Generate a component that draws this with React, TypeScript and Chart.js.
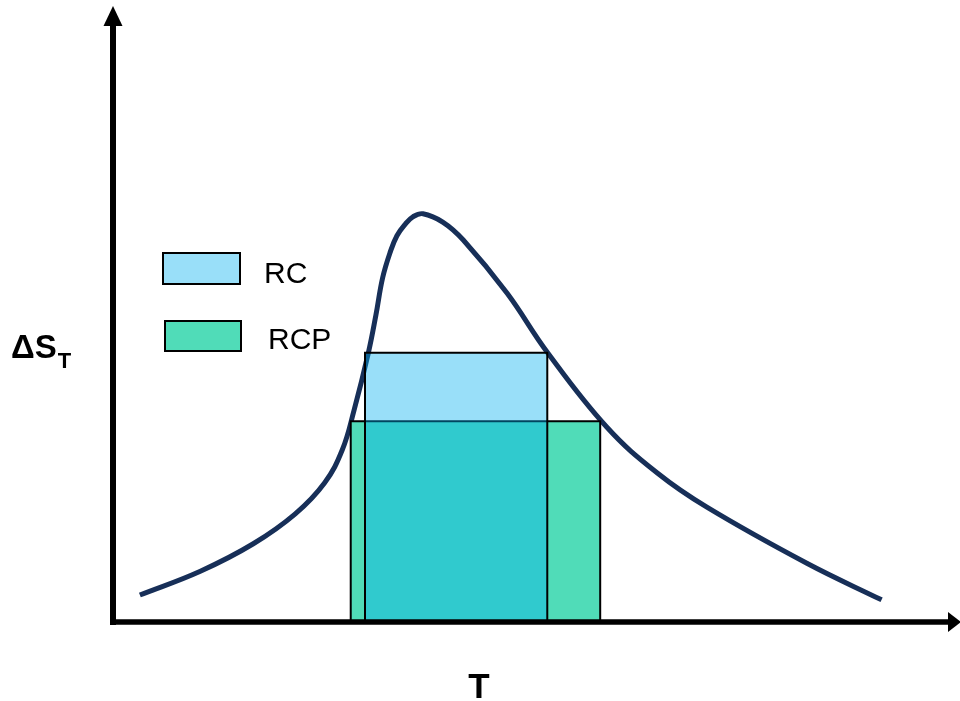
import React, { useEffect, useRef } from "react";
import { Chart, registerables } from "chart.js";

Chart.register(...registerables);

// Entropy-change curve ΔS_T against temperature T (arbitrary units, 0–100)
const curveT = [
  3.2, 10.4, 16.7, 21.7, 25.2, 27.3, 28.7, 30.4, 31.3, 32.1, 33.0, 33.8, 34.8,
  35.7, 36.9, 39.3, 41.7, 46.9, 51.7, 58.8, 64.8, 70.7, 82.6, 91.5,
];
const curveS = [
  4.1, 8.0, 12.5, 17.4, 22.5, 27.9, 34.4, 43.8, 50.0, 56.1, 60.3, 63.0, 64.9,
  66.1, 66.6, 65.2, 62.3, 53.6, 43.9, 31.6, 24.1, 18.5, 9.3, 3.3,
];

// Refrigerant-capacity rectangles: temperature span and height
const rcSpan = [30.0, 51.7];
const rcHeight = 43.8;
const rcpSpan = [28.3, 58.0];
const rcpHeight = 32.6;

const seriesNames = ["RC", "RCP"];
const xTitle = "T";
const yTitleMain = "ΔS";
const yTitleSub = "T";

const CURVE_COLOR = "#172F58";
const RC_FILL = "rgba(0, 176, 240, 0.4)";
const RCP_FILL = "#50DCB8";
const FONT = "'Liberation Sans', Arial, sans-serif";

const rect = (span: number[], h: number) => [
  { x: span[0], y: 0 },
  { x: span[0], y: h },
  { x: span[1], y: h },
  { x: span[1], y: 0 },
];

const overlay = {
  id: "overlay",
  afterDraw(chart: Chart) {
    const ctx = chart.ctx;
    const xs = chart.scales.x;
    const ys = chart.scales.y;
    const x0 = xs.getPixelForValue(0);
    const y0 = ys.getPixelForValue(0) + 2;
    ctx.save();
    ctx.fillStyle = "#000";
    ctx.strokeStyle = "#000";

    // y axis with arrow
    ctx.lineWidth = 6;
    ctx.beginPath();
    ctx.moveTo(x0, y0 + 3);
    ctx.lineTo(x0, 24);
    ctx.stroke();
    ctx.beginPath();
    ctx.moveTo(x0, 6);
    ctx.lineTo(x0 - 9.5, 26);
    ctx.lineTo(x0 + 9.5, 26);
    ctx.closePath();
    ctx.fill();

    // x axis with arrow
    ctx.lineWidth = 5.5;
    ctx.beginPath();
    ctx.moveTo(x0 - 3, y0);
    ctx.lineTo(950, y0);
    ctx.stroke();
    ctx.beginPath();
    ctx.moveTo(961, y0);
    ctx.lineTo(948, y0 - 10);
    ctx.lineTo(948, y0 + 10);
    ctx.closePath();
    ctx.fill();

    // legend
    ctx.lineWidth = 2;
    const boxes = [
      { x: 163, y: 253, w: 77, h: 31, fill: RC_FILL, tx: 264, ty: 283 },
      { x: 165, y: 321, w: 76, h: 30, fill: RCP_FILL, tx: 268, ty: 349 },
    ];
    boxes.forEach((b, i) => {
      ctx.fillStyle = "#fff";
      ctx.fillRect(b.x, b.y, b.w, b.h);
      ctx.fillStyle = b.fill;
      ctx.fillRect(b.x, b.y, b.w, b.h);
      ctx.strokeStyle = "#000";
      ctx.strokeRect(b.x, b.y, b.w, b.h);
      ctx.fillStyle = "#000";
      ctx.font = `30px ${FONT}`;
      ctx.textAlign = "left";
      ctx.textBaseline = "alphabetic";
      ctx.fillText(seriesNames[i], b.tx, b.ty);
    });

    // axis titles
    ctx.fillStyle = "#000";
    ctx.font = `bold 33px ${FONT}`;
    ctx.textAlign = "left";
    ctx.fillText(yTitleMain, 11, 358);
    const w = ctx.measureText(yTitleMain).width;
    ctx.font = `bold 22px ${FONT}`;
    ctx.fillText(yTitleSub, 11 + w + 1, 368);

    ctx.font = `bold 35px ${FONT}`;
    ctx.textAlign = "center";
    ctx.fillText(xTitle, 479, 698);
    ctx.restore();
  },
};

export default function App() {
  const ref = useRef<HTMLCanvasElement | null>(null);

  useEffect(() => {
    if (!ref.current) return;
    const chart = new Chart(ref.current, {
      type: "line",
      data: {
        datasets: [
          {
            label: seriesNames[0],
            data: rect(rcSpan, rcHeight),
            borderColor: "#000",
            borderWidth: 2,
            backgroundColor: RC_FILL,
            fill: "origin",
            tension: 0,
            pointRadius: 0,
            order: 1,
          },
          {
            label: seriesNames[1],
            data: rect(rcpSpan, rcpHeight),
            borderColor: "#000",
            borderWidth: 2,
            backgroundColor: RCP_FILL,
            fill: "origin",
            tension: 0,
            pointRadius: 0,
            order: 2,
          },
          {
            label: "ΔS_T",
            data: curveT.map((t, i) => ({ x: t, y: curveS[i] })),
            borderColor: CURVE_COLOR,
            borderWidth: 5,
            fill: false,
            tension: 0.4,
            pointRadius: 0,
            order: 3,
          },
        ],
      },
      options: {
        responsive: false,
        animation: false,
        devicePixelRatio: 1,
        layout: { padding: { left: 113, right: 7, top: 10, bottom: 81 } },
        scales: {
          x: { type: "linear", min: 0, max: 100, display: false },
          y: { type: "linear", min: 0, max: 100, display: false },
        },
        plugins: {
          legend: { display: false },
          tooltip: { enabled: false },
        },
      },
      plugins: [overlay],
    });
    return () => chart.destroy();
  }, []);

  return (
    <canvas
      ref={ref}
      width={960}
      height={701}
      style={{ position: "absolute", left: 0, top: 0, display: "block" }}
    />
  );
}
